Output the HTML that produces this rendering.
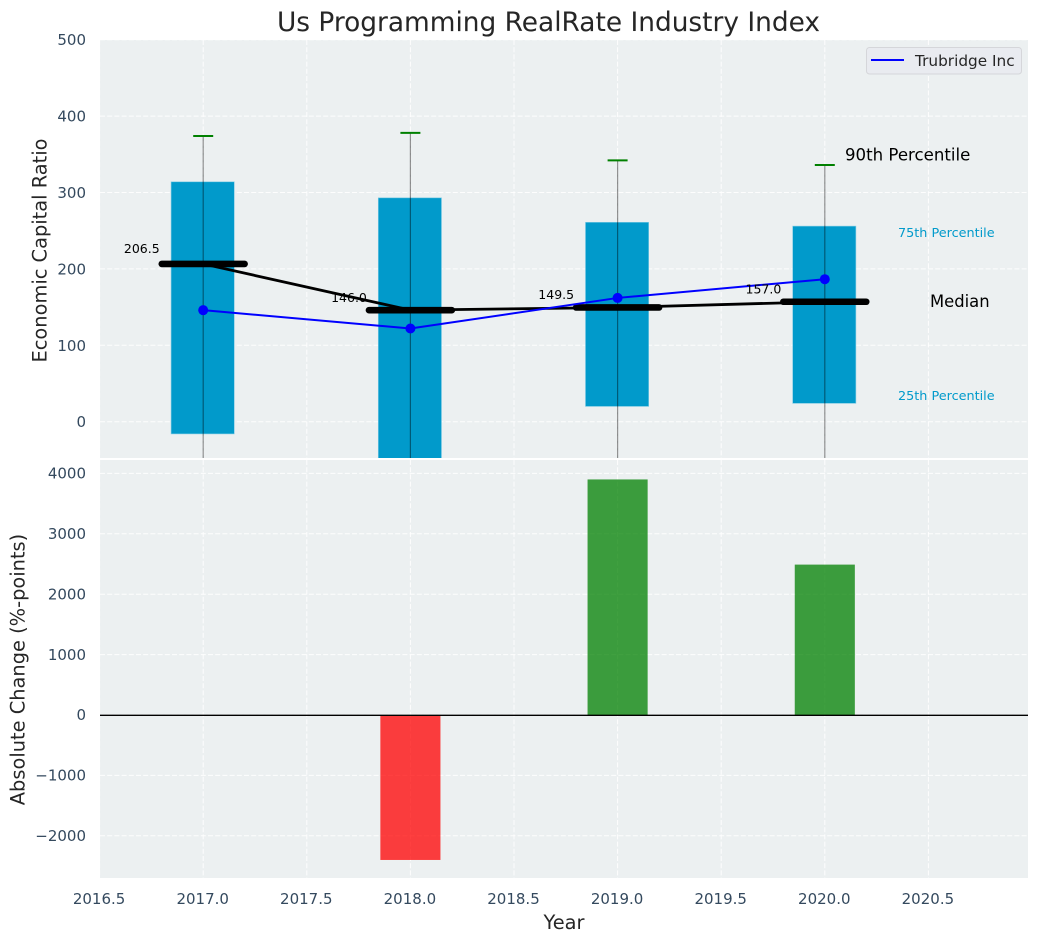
<!DOCTYPE html>
<html>
<head>
<meta charset="utf-8">
<title>Us Programming RealRate Industry Index</title>
<style>
html,body{margin:0;padding:0;background:#fff;}
svg{display:block;font-family:"DejaVu Sans","Liberation Sans",sans-serif;}
</style>
</head>
<body>
<svg id="chart" xmlns="http://www.w3.org/2000/svg" width="1039" height="942" viewBox="0 0 1039 942">
  <defs>
    <clipPath id="clip-top"><rect x="100" y="40" width="928" height="418"/></clipPath>
    <clipPath id="clip-bottom"><rect x="100" y="460" width="928" height="418"/></clipPath>
  </defs>
  <rect x="100" y="40" width="928" height="418" fill="#ecf0f1"/>
  <rect x="100" y="460" width="928" height="418" fill="#ecf0f1"/>
  <g id="grid"></g>
  <g id="top-marks" clip-path="url(#clip-top)"></g>
  <g id="bottom-marks" clip-path="url(#clip-bottom)"></g>
  <g id="labels"></g>
  <text x="548.5" y="31" text-anchor="middle" font-size="26.4" fill="#262626">Us Programming RealRate Industry Index</text>
  <text transform="translate(46.5,250.5) rotate(-90)" text-anchor="middle" font-size="19.4" fill="#262626">Economic Capital Ratio</text>
  <text transform="translate(24.5,669.5) rotate(-90)" text-anchor="middle" font-size="19.4" fill="#262626">Absolute Change (%-points)</text>
  <text x="564" y="929" text-anchor="middle" font-size="19.4" fill="#262626">Year</text>
  <g>
    <rect x="866.5" y="47.5" width="155" height="26.5" rx="3" fill="#e9ebf0" stroke="#d5d6da" stroke-width="1"/>
    <line x1="871" y1="60" x2="904" y2="60" stroke="#0000ff" stroke-width="2"/>
    <text x="915" y="66" font-size="15.3" fill="#262626">Trubridge Inc</text>
  </g>
</svg>
<script>
const years = [2017, 2018, 2019, 2020];
const p90 = [374, 378, 342, 336];
const p75 = [314, 293, 261, 256];
const medians = [206.5, 146.0, 149.5, 157.0];
const p25 = [-16, -60, 20, 24];
const p10 = [-120, -140, -90, -80];
const company = [146, 122, 162, 186.5];
const absChange = [0, -2400, 3900, 2490];
const xTicks = [2016.5, 2017, 2017.5, 2018, 2018.5, 2019, 2019.5, 2020, 2020.5];
const yTicksTop = [0, 100, 200, 300, 400, 500];
const yTicksBottom = [-2000, -1000, 0, 1000, 2000, 3000, 4000];

const NS = 'http://www.w3.org/2000/svg';
function xS(v) { return 203.2 + (v - 2017) * 207.2; }
function yTop(v) { return 421.7 - v * 0.764; }
function yBot(v) { return 715 - v * 0.0604; }
function make(parent, tag, props, text) {
  const el = document.createElementNS(NS, tag);
  for (const k in props) el.setAttribute(k, props[k]);
  if (text !== undefined) el.textContent = text;
  parent.appendChild(el);
  return el;
}
const grid = document.getElementById('grid');
const top_ = document.getElementById('top-marks');
const bottom = document.getElementById('bottom-marks');
const labels = document.getElementById('labels');
const gridStyle = { stroke: '#ffffff', 'stroke-width': 1, 'stroke-dasharray': '5 2.2', opacity: 0.9 };

xTicks.forEach(function (t) {
  const x = xS(t);
  const a = make(grid, 'line', Object.assign({ x1: x, x2: x, y1: 40, y2: 458 }, gridStyle));
  
  
  const b = make(grid, 'line', Object.assign({ x1: x, x2: x, y1: 460, y2: 878 }, gridStyle));
  
  
  const l = make(labels, 'text', { x: x - 0.5, y: 904, 'text-anchor': 'middle', 'font-size': 15, fill: '#34495e' }, t.toFixed(1));
  
  
});
yTicksTop.forEach(function (t) {
  const y = yTop(t);
  const a = make(grid, 'line', Object.assign({ x1: 100, x2: 1028, y1: y, y2: y }, gridStyle));
  
  
  const l = make(labels, 'text', { x: 86, y: y + 5.5, 'text-anchor': 'end', 'font-size': 15, fill: '#34495e' }, String(t));
  
  
});
yTicksBottom.forEach(function (t) {
  const y = yBot(t);
  const a = make(grid, 'line', Object.assign({ x1: 100, x2: 1028, y1: y, y2: y }, gridStyle));
  
  
  const l = make(labels, 'text', { x: 86, y: y + 5.2, 'text-anchor': 'end', 'font-size': 15, fill: '#34495e' }, String(t).replace('-', '\u2212'));
  
  
});

years.forEach(function (yr, i) {
  const x = xS(yr);
  const bar = make(top_, 'rect', { x: xS(yr - 0.155), y: yTop(p75[i]), width: xS(yr + 0.15) - xS(yr - 0.155), height: yTop(p25[i]) - yTop(p75[i]), fill: '#019acb', stroke: '#7fcbe4', 'stroke-width': 0.6 });
  
  
  const whisk = make(top_, 'line', { x1: x, x2: x, y1: yTop(p90[i]), y2: yTop(p10[i]), stroke: '#000000', 'stroke-opacity': 0.42, 'stroke-width': 1.2 });
  
  
  const cap = make(top_, 'line', { x1: x - 10, x2: x + 10, y1: yTop(p90[i]), y2: yTop(p90[i]), stroke: '#008000', 'stroke-width': 2 });
  
  
});

const medianPath = make(top_, 'polyline', { points: years.map(function (yr, i) { return xS(yr) + ',' + yTop(medians[i]); }).join(' '), fill: 'none', stroke: '#000000', 'stroke-width': 2.8 });



years.forEach(function (yr, i) {
  const y = yTop(medians[i]);
  const m = make(top_, 'line', { x1: xS(yr - 0.2), x2: xS(yr + 0.2), y1: y, y2: y, stroke: '#000000', 'stroke-width': 6.6, 'stroke-linecap': 'round' });
  
  
  const lift = i === 0 ? 10.7 : 8.3;
  const l = make(labels, 'text', { x: xS(yr) - 43.5, y: y - lift, 'text-anchor': 'end', 'font-size': 12.5, fill: '#000000' }, medians[i].toFixed(1));
  
  
});

const companyPath = make(top_, 'polyline', { points: years.map(function (yr, i) { return xS(yr) + ',' + yTop(company[i]); }).join(' '), fill: 'none', stroke: '#0000ff', 'stroke-width': 2 });


years.forEach(function (yr, i) {
  const p = make(top_, 'circle', { cx: xS(yr), cy: yTop(company[i]), r: 5, fill: '#0000ff' });
  
  
});

years.forEach(function (yr, i) {
  if (absChange[i] === 0) return;
  const v = absChange[i];
  const b = make(bottom, 'rect', { x: xS(yr - 0.145), y: Math.min(yBot(0), yBot(v)), width: xS(yr + 0.145) - xS(yr - 0.145), height: Math.abs(yBot(v) - yBot(0)), fill: v < 0 ? '#ff0000' : '#008000', 'fill-opacity': 0.75 });
  
  
});
const zero = make(bottom, 'line', { x1: 100, x2: 1028, y1: yBot(0) + 0.3, y2: yBot(0) + 0.3, stroke: '#000000', 'stroke-width': 1.4 });



const last = years.length - 1;
const t90 = make(labels, 'text', { x: 845, y: yTop(p90[last]) - 4.7, 'font-size': 16.6, fill: '#000000' }, '90th Percentile');


const t75 = make(labels, 'text', { x: 898, y: yTop(p75[last]) + 11, 'font-size': 12.8, fill: '#019acb' }, '75th Percentile');


const tMed = make(labels, 'text', { x: 930, y: yTop(medians[last]) + 5.3, 'font-size': 16.4, fill: '#000000' }, 'Median');


const t25 = make(labels, 'text', { x: 898, y: yTop(p25[last]) - 3.3, 'font-size': 12.8, fill: '#019acb' }, '25th Percentile');


</script>
</body>
</html>
